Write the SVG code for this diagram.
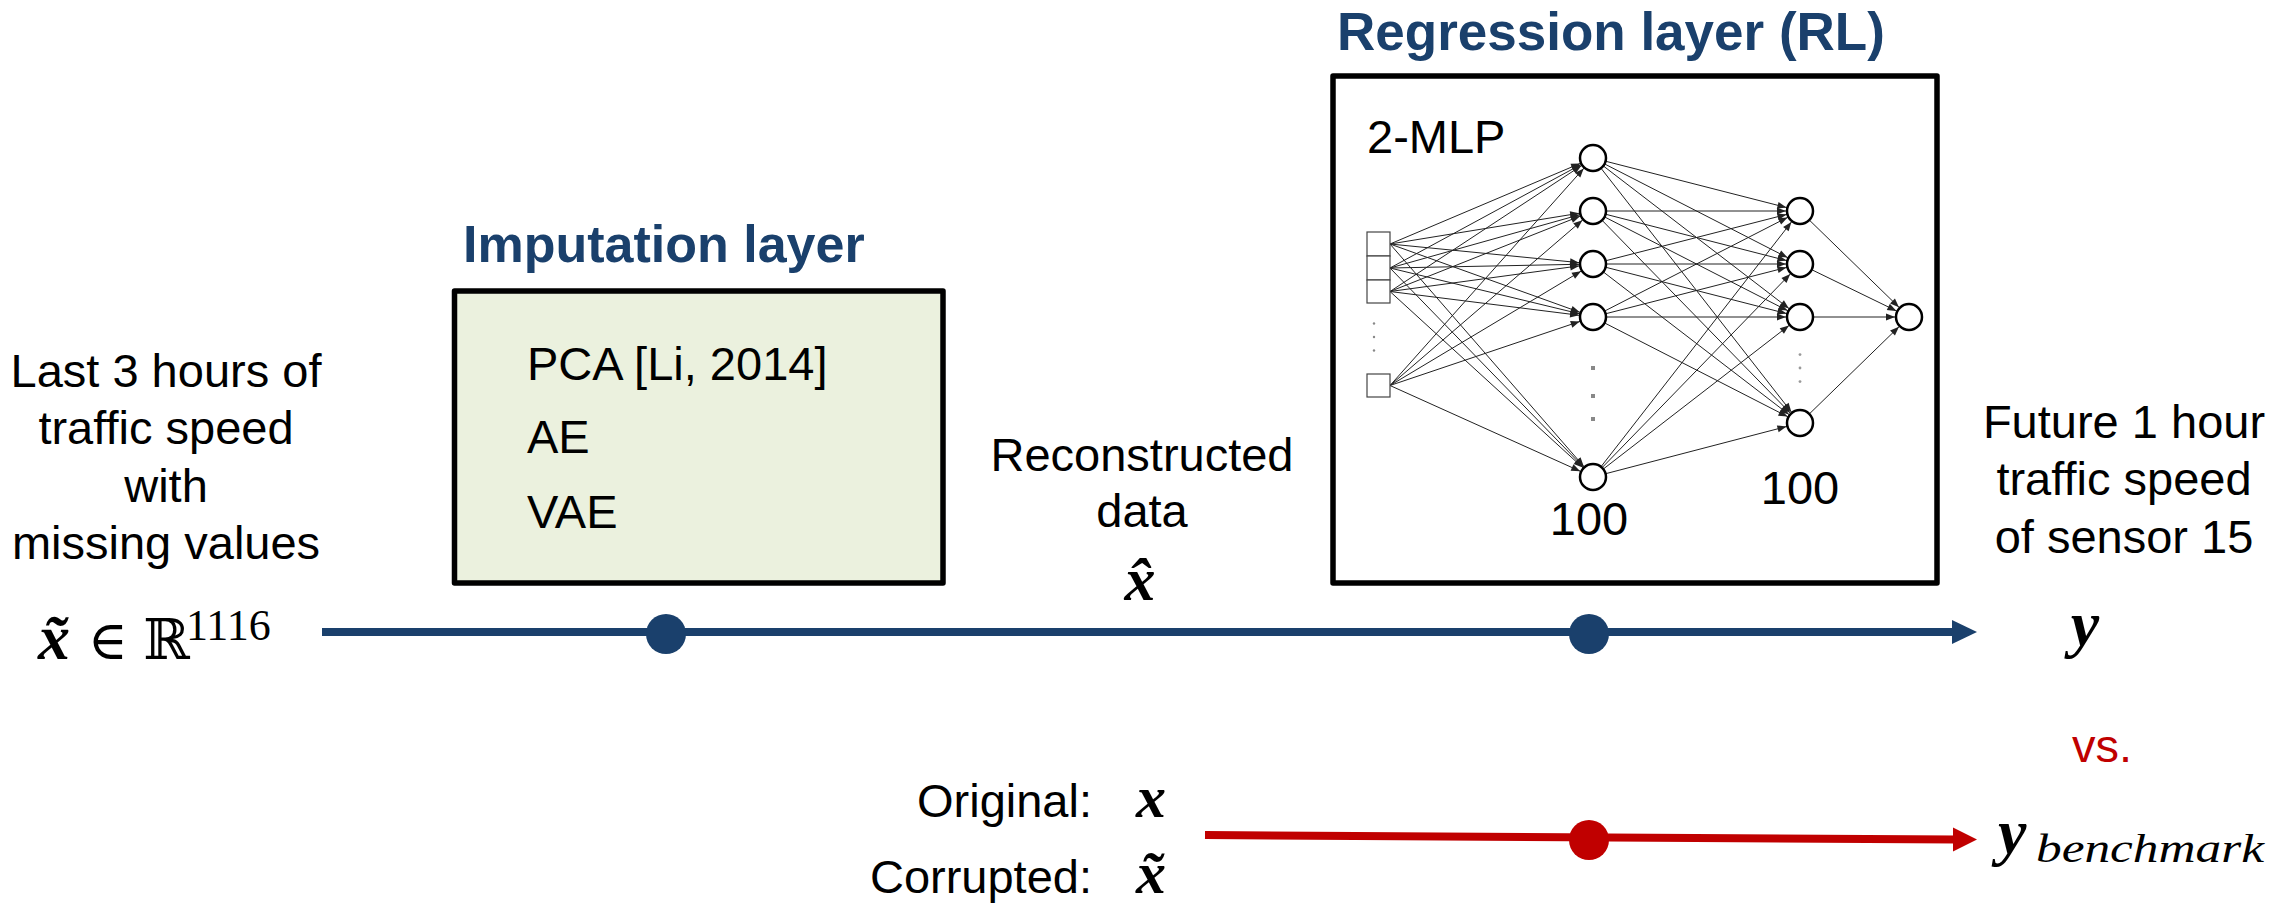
<svg xmlns="http://www.w3.org/2000/svg" width="2272" height="908" viewBox="0 0 2272 908">
<style>
.t{font-family:"Liberation Sans",Arial,sans-serif;font-size:47px;fill:#000}
.ttl{font-family:"Liberation Sans",Arial,sans-serif;font-weight:bold;fill:#1A406C}
.m{font-family:"Liberation Serif","DejaVu Serif",serif;font-style:italic;font-weight:bold;fill:#000}
.mr{font-family:"Liberation Serif","DejaVu Serif",serif;fill:#000}
.mi{font-family:"Liberation Serif","DejaVu Serif",serif;font-style:italic;fill:#000}
.e{stroke:#222;stroke-width:1;fill:none;marker-end:url(#ah)}
.nd{fill:#fff;stroke:#000;stroke-width:2.5}
.ib{fill:#fff;stroke:#444;stroke-width:1.2}
.box{stroke:#000;stroke-width:5.5;stroke-linejoin:round}
</style>
<defs>
<marker id="ah" markerUnits="userSpaceOnUse" markerWidth="10" markerHeight="8" refX="23" refY="3.5" orient="auto" overflow="visible"><path d="M0,0 L9,3.5 L0,7 z" fill="#222"/></marker>
</defs>
<rect width="2272" height="908" fill="#fff"/>

<g id="input-label">
<text class="t" text-anchor="middle" x="166" y="387">Last 3 hours of</text>
<text class="t" text-anchor="middle" x="166" y="444">traffic speed</text>
<text class="t" text-anchor="middle" x="166" y="502">with</text>
<text class="t" text-anchor="middle" x="166" y="559">missing values</text>
<text class="m" x="38" y="659" font-size="64">x̃</text>
<text class="mr" x="88" y="659" font-size="54">∈</text>
<text class="mr" x="143" y="659" font-size="56">ℝ</text>
<text class="mr" x="186" y="640" font-size="44">1116</text>
</g>

<g id="imputation-layer">
<text class="ttl" x="463" y="262" font-size="52">Imputation layer</text>
<rect class="box" x="454.5" y="291" width="488.5" height="292" fill="#EBF1DE"/>
<text class="t" x="527" y="380">PCA [Li, 2014]</text>
<text class="t" x="527" y="453">AE</text>
<text class="t" x="527" y="528">VAE</text>
</g>

<g id="reconstructed-label">
<text class="t" text-anchor="middle" x="1142" y="471">Reconstructed</text>
<text class="t" text-anchor="middle" x="1142" y="527">data</text>
<text class="m" text-anchor="middle" x="1140" y="600" font-size="62">x̂</text>
</g>

<g id="regression-layer">
<text class="ttl" x="1337" y="50" font-size="53">Regression layer (RL)</text>
<rect class="box" x="1333" y="76" width="604" height="507" fill="#fff"/>
<text class="t" x="1367" y="153" font-size="46">2-MLP</text>
<text class="t" text-anchor="middle" x="1589" y="535" font-size="45">100</text>
<text class="t" text-anchor="middle" x="1800" y="504" font-size="45">100</text>
</g>

<g id="connectors">
<g id="mlp-edges">
<line class="e" x1="1390" y1="244" x2="1593" y2="158"/>
<line class="e" x1="1390" y1="244" x2="1593" y2="211"/>
<line class="e" x1="1390" y1="244" x2="1593" y2="264"/>
<line class="e" x1="1390" y1="244" x2="1593" y2="317"/>
<line class="e" x1="1390" y1="244" x2="1593" y2="477"/>
<line class="e" x1="1390" y1="268" x2="1593" y2="158"/>
<line class="e" x1="1390" y1="268" x2="1593" y2="211"/>
<line class="e" x1="1390" y1="268" x2="1593" y2="264"/>
<line class="e" x1="1390" y1="268" x2="1593" y2="317"/>
<line class="e" x1="1390" y1="268" x2="1593" y2="477"/>
<line class="e" x1="1390" y1="291.5" x2="1593" y2="158"/>
<line class="e" x1="1390" y1="291.5" x2="1593" y2="211"/>
<line class="e" x1="1390" y1="291.5" x2="1593" y2="264"/>
<line class="e" x1="1390" y1="291.5" x2="1593" y2="317"/>
<line class="e" x1="1390" y1="291.5" x2="1593" y2="477"/>
<line class="e" x1="1390" y1="385.5" x2="1593" y2="158"/>
<line class="e" x1="1390" y1="385.5" x2="1593" y2="211"/>
<line class="e" x1="1390" y1="385.5" x2="1593" y2="264"/>
<line class="e" x1="1390" y1="385.5" x2="1593" y2="317"/>
<line class="e" x1="1390" y1="385.5" x2="1593" y2="477"/>
<line class="e" x1="1593" y1="158" x2="1800" y2="211"/>
<line class="e" x1="1593" y1="158" x2="1800" y2="264"/>
<line class="e" x1="1593" y1="158" x2="1800" y2="317"/>
<line class="e" x1="1593" y1="158" x2="1800" y2="423"/>
<line class="e" x1="1593" y1="211" x2="1800" y2="211"/>
<line class="e" x1="1593" y1="211" x2="1800" y2="264"/>
<line class="e" x1="1593" y1="211" x2="1800" y2="317"/>
<line class="e" x1="1593" y1="211" x2="1800" y2="423"/>
<line class="e" x1="1593" y1="264" x2="1800" y2="211"/>
<line class="e" x1="1593" y1="264" x2="1800" y2="264"/>
<line class="e" x1="1593" y1="264" x2="1800" y2="317"/>
<line class="e" x1="1593" y1="264" x2="1800" y2="423"/>
<line class="e" x1="1593" y1="317" x2="1800" y2="211"/>
<line class="e" x1="1593" y1="317" x2="1800" y2="264"/>
<line class="e" x1="1593" y1="317" x2="1800" y2="317"/>
<line class="e" x1="1593" y1="317" x2="1800" y2="423"/>
<line class="e" x1="1593" y1="477" x2="1800" y2="211"/>
<line class="e" x1="1593" y1="477" x2="1800" y2="264"/>
<line class="e" x1="1593" y1="477" x2="1800" y2="317"/>
<line class="e" x1="1593" y1="477" x2="1800" y2="423"/>
<line class="e" x1="1800" y1="211" x2="1909" y2="317"/>
<line class="e" x1="1800" y1="264" x2="1909" y2="317"/>
<line class="e" x1="1800" y1="317" x2="1909" y2="317"/>
<line class="e" x1="1800" y1="423" x2="1909" y2="317"/>
</g>
<g id="main-flow">
<line x1="322" y1="632" x2="1956" y2="632" stroke="#1A406C" stroke-width="8"/>
<polygon points="1952,620 1977,632 1952,644" fill="#1A406C"/>
</g>
<g id="benchmark-flow">
<line x1="1205" y1="835" x2="1956" y2="839.5" stroke="#C00000" stroke-width="8"/>
<polygon points="1953,827.5 1977,839.5 1953,851.5" fill="#C00000"/>
</g>
</g>

<g id="mlp-nodes">
<rect class="ib" x="1367" y="232" width="23" height="24"/>
<rect class="ib" x="1367" y="256" width="23" height="24"/>
<rect class="ib" x="1367" y="280" width="23" height="23"/>
<rect class="ib" x="1367" y="374" width="23" height="23"/>
<circle cx="1374" cy="323.5" r="1.2" fill="#888"/>
<circle cx="1374" cy="337" r="1.2" fill="#888"/>
<circle cx="1374" cy="350.5" r="1.2" fill="#888"/>
<circle class="nd" cx="1593" cy="158" r="13"/>
<circle class="nd" cx="1593" cy="211" r="13"/>
<circle class="nd" cx="1593" cy="264" r="13"/>
<circle class="nd" cx="1593" cy="317" r="13"/>
<circle class="nd" cx="1593" cy="477" r="13"/>
<rect x="1591" y="366" width="4" height="4" fill="#888"/>
<rect x="1591" y="394" width="4" height="4" fill="#888"/>
<rect x="1591" y="417" width="4" height="4" fill="#888"/>
<circle class="nd" cx="1800" cy="211" r="13"/>
<circle class="nd" cx="1800" cy="264" r="13"/>
<circle class="nd" cx="1800" cy="317" r="13"/>
<circle class="nd" cx="1800" cy="423" r="13"/>
<circle cx="1800" cy="354.6" r="1.4" fill="#999"/>
<circle cx="1800" cy="368" r="1.4" fill="#999"/>
<circle cx="1800" cy="381.6" r="1.4" fill="#999"/>
<circle class="nd" cx="1909" cy="317" r="13"/>
</g>

<g id="junctions">
<circle id="junction-imputation" cx="666" cy="634" r="20" fill="#1A406C"/>
<circle id="junction-regression" cx="1589" cy="634" r="20" fill="#1A406C"/>
<circle id="junction-benchmark" cx="1589" cy="840" r="20" fill="#C00000"/>
</g>

<g id="output-label">
<text class="t" text-anchor="middle" x="2124" y="438">Future 1 hour</text>
<text class="t" text-anchor="middle" x="2124" y="495">traffic speed</text>
<text class="t" text-anchor="middle" x="2124" y="553">of sensor 15</text>
<text class="m" text-anchor="middle" x="2085" y="645" font-size="64">y</text>
</g>

<g id="vs-label">
<text class="t" text-anchor="middle" x="2102" y="762" style="fill:#C00000">vs.</text>
</g>

<g id="benchmark-inputs">
<text class="t" text-anchor="end" x="1092" y="817">Original:</text>
<text class="t" text-anchor="end" x="1092" y="893">Corrupted:</text>
<text class="m" x="1136" y="817" font-size="60">x</text>
<text class="m" x="1136" y="893" font-size="60">x̃</text>
</g>

<g id="benchmark-output">
<text class="m" x="1998" y="853" font-size="64">y</text>
<text class="mi" x="2036" y="862" font-size="40" textLength="228" lengthAdjust="spacingAndGlyphs">benchmark</text>
</g>
</svg>
